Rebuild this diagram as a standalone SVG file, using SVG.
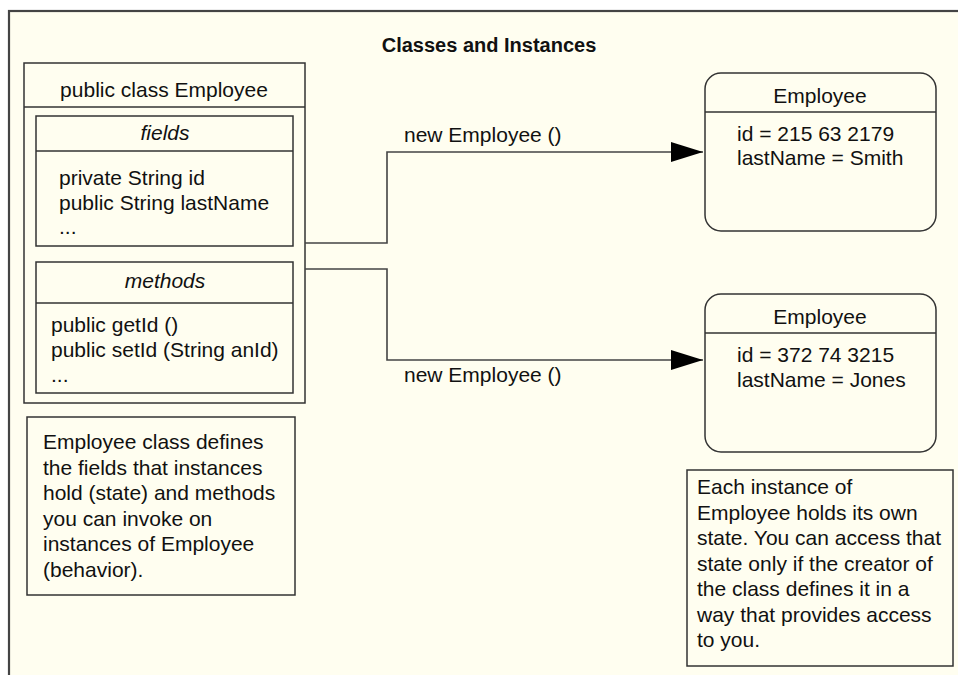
<svg xmlns="http://www.w3.org/2000/svg" width="958" height="675" viewBox="0 0 958 675">
<defs>
<style>
text{font-family:"Liberation Sans",Arial,Helvetica,sans-serif;font-size:21px;fill:#111}
.box{fill:none;stroke:#333;stroke-width:1.5}
.line{fill:none;stroke:#444;stroke-width:1.6}
.c{text-anchor:middle}
.i{font-style:italic}
.t{font-weight:bold;font-size:20px}
</style>
<marker id="arr" viewBox="0 0 32 20" refX="32" refY="10" markerWidth="32" markerHeight="20" markerUnits="userSpaceOnUse" orient="auto">
<path d="M0,0 L32,10 L0,20 Z" fill="#000"/>
</marker>
</defs>
<rect x="0" y="0" width="958" height="675" fill="#fff"/>
<rect x="9" y="11" width="960" height="680" fill="#FFFEF0" stroke="#444" stroke-width="2.2"/>
<text class="t c" x="489" y="52">Classes and Instances</text>

<g id="class-employee">
<rect class="box" x="24" y="63" width="281" height="340"/>
<line class="box" x1="24" y1="107" x2="305" y2="107"/>
<text class="c" x="164" y="97">public class Employee</text>
</g>
<g id="fields">
<rect class="box" x="36" y="116" width="257" height="130"/>
<line class="box" x1="36" y1="151" x2="293" y2="151"/>
<text class="c i" x="165" y="140">fields</text>
<text x="59" y="185">private String id</text>
<text x="59" y="210">public String lastName</text>
<text x="59" y="234">...</text>
</g>
<g id="methods">
<rect class="box" x="36" y="262" width="257" height="131"/>
<line class="box" x1="36" y1="303" x2="293" y2="303"/>
<text class="c i" x="165" y="288">methods</text>
<text x="51" y="332">public getId ()</text>
<text x="51" y="357">public setId (String anId)</text>
<text x="51" y="382">...</text>
</g>
<g id="note-class">
<rect class="box" x="27" y="417" width="268" height="178"/>
<text x="43" y="449">Employee class defines</text>
<text x="43" y="474.5">the fields that instances</text>
<text x="43" y="500">hold (state) and methods</text>
<text x="43" y="525.5">you can invoke on</text>
<text x="43" y="551">instances of Employee</text>
<text x="43" y="576.5">(behavior).</text>
</g>

<g id="connectors">
<polyline class="line" points="305,243 387,243 387,152 703,152" marker-end="url(#arr)"/>
<polyline class="line" points="305,269 387,269 387,360 703,360" marker-end="url(#arr)"/>
<text x="404" y="142">new Employee ()</text>
<text x="404" y="382">new Employee ()</text>
</g>

<g id="instance-smith">
<rect class="box" x="705" y="73" width="231" height="158" rx="16" ry="16"/>
<line class="box" x1="705" y1="112" x2="936" y2="112"/>
<text class="c" x="820" y="103">Employee</text>
<text x="737" y="141">id = 215 63 2179</text>
<text x="737" y="165">lastName = Smith</text>
</g>
<g id="instance-jones">
<rect class="box" x="705" y="294" width="231" height="158" rx="16" ry="16"/>
<line class="box" x1="705" y1="333" x2="936" y2="333"/>
<text class="c" x="820" y="324">Employee</text>
<text x="737" y="362">id = 372 74 3215</text>
<text x="737" y="387">lastName = Jones</text>
</g>
<g id="note-instance">
<rect class="box" x="687" y="470" width="266" height="196"/>
<text x="697" y="494">Each instance of</text>
<text x="697" y="519.5">Employee holds its own</text>
<text x="697" y="545">state. You can access that</text>
<text x="697" y="570.5">state only if the creator of</text>
<text x="697" y="596">the class defines it in a</text>
<text x="697" y="621.5">way that provides access</text>
<text x="697" y="647">to you.</text>
</g>
</svg>
